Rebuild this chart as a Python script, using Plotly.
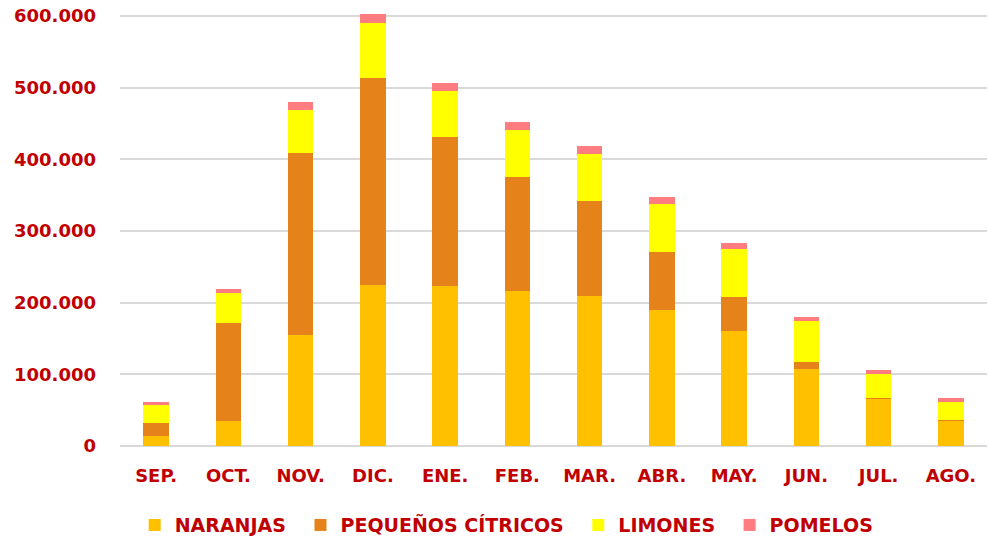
import plotly.graph_objects as go

meses = ["SEP.", "OCT.", "NOV.", "DIC.", "ENE.", "FEB.", "MAR.", "ABR.", "MAY.", "JUN.", "JUL.", "AGO."]
naranjas = [13400, 34300, 154300, 225000, 223600, 216600, 210000, 189700, 160800, 107400, 66400, 35300]
pequenos = [18100, 137200, 254700, 288000, 207800, 158600, 131700, 80900, 47400, 9800, 1000, 1400]
limones = [25100, 41900, 60500, 78000, 63600, 65500, 65600, 67800, 67000, 57100, 33000, 25100]
pomelos = [4800, 6400, 10300, 11600, 11700, 11600, 11500, 9700, 8800, 5100, 5000, 5100]

series = [
    ("NARANJAS\u2002", naranjas, "#FFC000"),
    ("PEQUEÑOS CÍTRICOS\u2002", pequenos, "#E5831A"),
    ("LIMONES\u2002", limones, "#FFFF00"),
    ("POMELOS", pomelos, "#FF7C80"),
]

fig = go.Figure()
for name, vals, col in series:
    fig.add_trace(go.Bar(x=meses, y=vals, name=name, marker=dict(color=col, line=dict(width=0))))

red = "#C00000"
fig.update_layout(
    barmode="stack",
    bargap=0.65,
    width=990, height=541,
    margin=dict(l=120, r=3, t=9, b=95, autoexpand=False),
    plot_bgcolor="white", paper_bgcolor="white",
    separators=",.",
    font=dict(family="DejaVu Sans", color=red),
    yaxis=dict(range=[0, 610000], dtick=100000, tickformat=",d", automargin=False,
               showgrid=True, gridcolor="#D9D9D9", gridwidth=1.5,
               zeroline=True, zerolinecolor="#D9D9D9", zerolinewidth=1.5,
               tickfont=dict(size=18, color=red, family="DejaVu Sans", weight="bold"),
               ticks="", ticklabelstandoff=23),
    xaxis=dict(showgrid=False, showline=False, automargin=False,
               tickfont=dict(size=18, color=red, family="DejaVu Sans", weight="bold"),
               ticks="", ticklabelstandoff=17),
    legend=dict(orientation="h", x=0.446, xanchor="center", y=-0.181, yanchor="middle",
                font=dict(size=19, color=red, family="DejaVu Sans", weight="bold"),
                traceorder="normal"),
)

fig.write_html("out.html", config={"displayModeBar": False},
               post_script="document.body.style.margin='0';document.body.style.overflow='hidden';")
